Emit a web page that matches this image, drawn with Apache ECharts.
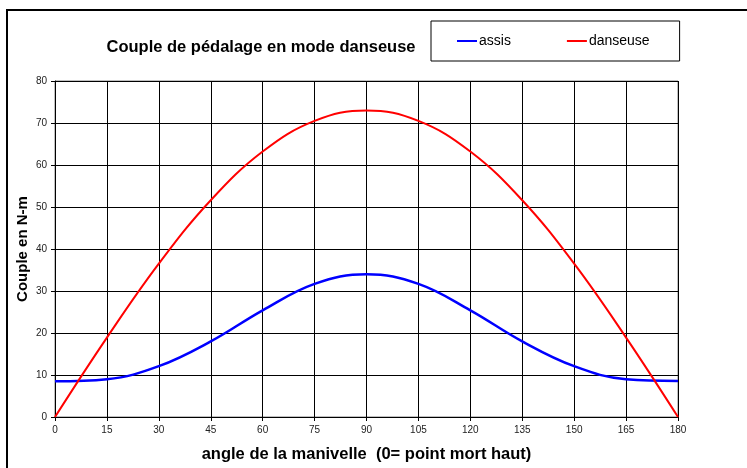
<!DOCTYPE html>
<html lang="fr">
<head>
  <meta charset="UTF-8">
  <title>Couple de pédalage</title>
  <script src="https://cdn.jsdelivr.net/npm/echarts@6/dist/echarts.min.js"></script>
  <style>
    * { margin: 0; padding: 0; }
    body { background: #fff; }
    #chart { width: 747px; height: 468px; }
  </style>
</head>
<body>
  <div id="chart"></div>
  <script>
    // angles (degrés) et couples
    const angles = [0, 15, 30, 45, 60, 75, 90, 105, 120, 135, 150, 165, 180]
    const assis = [8.5, 9.0, 12.1, 18.0, 25.4, 31.7, 34.0, 31.7, 25.4, 18.0, 12.1, 9.0, 8.6]
    const danseuse = [0, 18.9, 36.5, 51.6, 63.2, 70.5, 73.0, 70.5, 63.2, 51.6, 36.5, 18.9, 0]
    const seriesNames = ['assis', 'danseuse']
    const font = "'Liberation Sans', Arial, sans-serif"

    const pairs = vals => angles.map((a, i) => [a, vals[i]])

    var myChart = echarts.init(document.getElementById('chart'))
    var option = {
      animation: false,
      title: {
        text: 'Couple de pédalage en mode danseuse',
        left: 256,
        top: 34,
        textAlign: 'center',
        textStyle: { fontFamily: font, fontSize: 16.5, fontWeight: 'bold', color: '#000' }
      },
      legend: {
        data: seriesNames,
        left: 431,
        top: 21,
        padding: [13, 30, 13, 26],
        borderColor: '#000',
        borderWidth: 1,
        itemGap: 56,
        itemWidth: 20,
        itemHeight: 2,
        icon: 'rect',
        textStyle: { fontFamily: font, fontSize: 14, color: '#000', padding: [0, 0, 0, -3] }
      },
      graphic: [{
        type: 'rect',
        shape: { x: 7, y: 10, width: 800, height: 500 },
        style: { fill: 'none', stroke: '#000', lineWidth: 2 },
        silent: true
      }],
      grid: {
        left: 55, right: 69, top: 81, bottom: 46,
        show: true, borderColor: '#808080', borderWidth: 1
      },
      xAxis: {
        type: 'value',
        min: 0, max: 180, interval: 15,
        name: 'angle de la manivelle  (0= point mort haut)',
        nameLocation: 'middle',
        nameGap: 29,
        nameMoveOverlap: false,
        nameTextStyle: { fontFamily: font, fontSize: 16.5, fontWeight: 'bold', color: '#000' },
        axisLine: { lineStyle: { color: '#000', width: 1 } },
        axisTick: { show: true, length: 4, lineStyle: { color: '#000' } },
        axisLabel: { fontFamily: font, fontSize: 10, color: '#222', margin: 8 },
        splitLine: { show: true, lineStyle: { color: '#000', width: 1 } }
      },
      yAxis: {
        type: 'value',
        min: 0, max: 80, interval: 10,
        name: 'Couple en N-m',
        nameLocation: 'middle',
        nameGap: 25,
        nameMoveOverlap: false,
        nameTextStyle: { fontFamily: font, fontSize: 15, fontWeight: 'bold', color: '#000' },
        axisLine: { show: true, lineStyle: { color: '#000', width: 1 } },
        axisTick: { show: true, length: 4, lineStyle: { color: '#000' } },
        axisLabel: { fontFamily: font, fontSize: 10, color: '#222', margin: 8 },
        splitLine: { show: true, lineStyle: { color: '#000', width: 1 } }
      },
      series: [
        {
          name: seriesNames[0],
          type: 'line',
          data: pairs(assis),
          smooth: 0.4,
          showSymbol: false,
          color: '#0000ff',
          lineStyle: { color: '#0000ff', width: 2.5 }
        },
        {
          name: seriesNames[1],
          type: 'line',
          data: pairs(danseuse),
          smooth: 0.4,
          showSymbol: false,
          color: '#ff0000',
          lineStyle: { color: '#ff0000', width: 2 }
        }
      ]
    }
    option && myChart.setOption(option)
  </script>
</body>
</html>
